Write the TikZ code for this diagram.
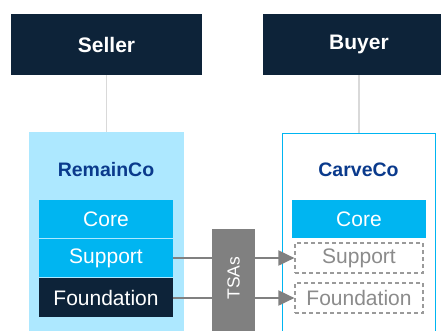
\documentclass[tikz,border=0pt]{standalone}
\usepackage{fontspec}
\setmainfont{Liberation Sans}
\usetikzlibrary{arrows.meta}
\definecolor{navy}{HTML}{0D2339}
\definecolor{paleblue}{HTML}{ADE8FF}
\definecolor{cyanx}{HTML}{00B5F1}
\definecolor{labelblue}{HTML}{0A3A8C}
\definecolor{tsagray}{HTML}{808080}
\definecolor{dashgray}{HTML}{9A9A9A}
\definecolor{linegray}{HTML}{D9D9D9}
\tikzset{
  party/.style={fill=navy, text=white, inner sep=0pt, font=\fontsize{21}{25}\selectfont\bfseries},
  co/.style={inner sep=0pt},
  colabel/.style={text=labelblue, font=\fontsize{19.5}{23}\selectfont\bfseries, inner sep=0pt},
  block/.style={inner sep=0pt, minimum width=134pt, minimum height=38pt, font=\fontsize{21}{25}\selectfont},
  cyanblock/.style={block, fill=cyanx, text=white},
  navyblock/.style={block, fill=navy, text=white},
  ghost/.style={inner sep=0pt, minimum width=128pt, minimum height=30pt, draw=dashgray, dashed, line width=1.2pt, dash pattern=on 4pt off 3pt, text=dashgray!90!black, font=\fontsize{21}{25}\selectfont},
  tie/.style={draw=linegray, line width=1.2pt},
  flow/.style={draw=tsagray, line width=2pt},
  flowarrow/.style={flow, -{Triangle[length=16pt, width=15pt]}}
}
\begin{document}
\begin{tikzpicture}[x=1pt, y=-1pt]
\clip (0,0) rectangle (441,330);
\fill[white] (0,0) rectangle (441,330);
% parties
\node[party, minimum width=191pt, minimum height=61pt] (seller) at (106.5,44.5) {Seller};
\node[party, minimum width=192pt, minimum height=61pt] (buyer) at (359,44.5) {Buyer};
% companies
\node[co, fill=paleblue, minimum width=155pt, minimum height=220pt, anchor=north] (remain) at (106.5,132) {};
\node[co, fill=white, draw=cyanx, line width=1pt, minimum width=153pt, minimum height=220pt, anchor=north] (carve) at (358.5,133) {};
\draw[tie] (seller.south) -- (remain.north);
\draw[tie] (buyer.south) -- (buyer.south |- carve.north);
\node[colabel] (remainlbl) at (106,170) {RemainCo};
\node[colabel] (carvelbl) at (358.5,170) {CarveCo};
% RemainCo blocks
\node[cyanblock] (rcore) at (106,219) {Core};
\node[cyanblock] (rsup) at (106,258) {Support};
\node[navyblock, minimum height=39pt] (rfound) at (106,297.5) {Foundation};
% CarveCo blocks
\node[cyanblock] (ccore) at (359,219) {Core};
\node[ghost] (csup) at (359,258) {Support};
\node[ghost] (cfound) at (359,298) {Foundation};
% TSAs
\node[co, fill=tsagray, minimum width=43pt, minimum height=120pt, anchor=north] (tsa) at (233.5,229) {};
\node[rotate=90, text=white, font=\fontsize{17.5}{20}\selectfont, inner sep=0pt] (tsalbl) at (233.5,278) {TSAs};
% flows
\draw[flow] (rsup.east) -- (rsup.east -| tsa.west);
\draw[flow] (rfound.east) -- (rfound.east -| tsa.west);
\draw[flowarrow] (csup.west -| tsa.east) -- (csup.west);
\draw[flowarrow] (cfound.west -| tsa.east) -- (cfound.west);
\end{tikzpicture}
\end{document}
